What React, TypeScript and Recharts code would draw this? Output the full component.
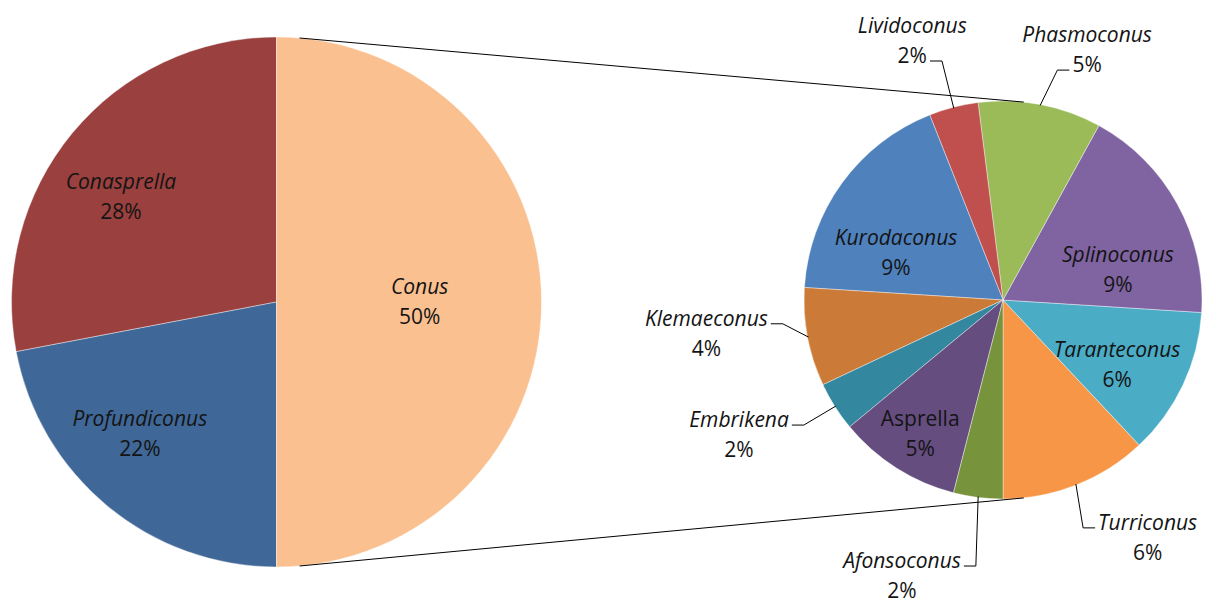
import { PieChart, Pie, Cell } from 'recharts'

// Main pie: genera share of species
const GENERA = ['Conasprella', 'Profundiconus', 'Conus']
const GENERA_PCT = [28, 22, 50]
const GENERA_COLORS = ['#9A403E', '#3F6797', '#FAC090']

// Secondary pie: Conus split into subgenera (sums to the 50% above)
const SUBGENERA = [
  'Turriconus',
  'Taranteconus',
  'Splinoconus',
  'Phasmoconus',
  'Lividoconus',
  'Kurodaconus',
  'Klemaeconus',
  'Embrikena',
  'Asprella',
  'Afonsoconus',
]
const SUBGENERA_PCT = [6, 6, 9, 5, 2, 9, 4, 2, 5, 2]
const SUBGENERA_COLORS = [
  '#F79646',
  '#4BACC6',
  '#8064A2',
  '#9BBB59',
  '#C0504D',
  '#4F81BD',
  '#CC7A38',
  '#33879E',
  '#654D80',
  '#77933C',
]

const W = 1207
const H = 601
const MAIN = { cx: 276.5, cy: 302, r: 265 }
const SPLIT = { cx: 1003, cy: 300, r: 199 }

const FONT_SIZE = 21
const LINE_GAP = 30
const FONT_FAMILY = '"Open Sans", sans-serif'
const TEXT_COLOR = '#141414'
const UPRIGHT = ['Asprella']

type Leader = { line: 0 | 1; side: 'left' | 'right' }
type Layout = { k: number; da: number; leader?: Leader }

// k: radius factor for the label block, da: angle shift from the slice middle
const LABEL_LAYOUT: Record<string, Layout> = {
  Conasprella: { k: 0.708, da: 5.6 },
  Profundiconus: { k: 0.717, da: -6.4 },
  Conus: { k: 0.54, da: 0 },
  Kurodaconus: { k: 0.587, da: 12.3 },
  Splinoconus: { k: 0.597, da: -14.2 },
  Taranteconus: { k: 0.66, da: -4.5 },
  Asprella: { k: 0.79, da: 0.6 },
  Lividoconus: { k: 1.379, da: 4.9, leader: { line: 1, side: 'right' } },
  Phasmoconus: { k: 1.325, da: -7.8, leader: { line: 1, side: 'left' } },
  Klemaeconus: { k: 1.5, da: -4.3, leader: { line: 0, side: 'right' } },
  Embrikena: { k: 1.49, da: -5.3, leader: { line: 0, side: 'right' } },
  Afonsoconus: { k: 1.477, da: -12.9, leader: { line: 0, side: 'right' } },
  Turriconus: { k: 1.399, da: 9.7, leader: { line: 0, side: 'left' } },
}

const RAD = Math.PI / 180
const polar = (cx: number, cy: number, r: number, deg: number) => ({
  x: cx + r * Math.cos(-deg * RAD),
  y: cy + r * Math.sin(-deg * RAD),
})

let measureCtx: CanvasRenderingContext2D | null = null
function textWidth(s: string, italic: boolean): number {
  if (!measureCtx) measureCtx = document.createElement('canvas').getContext('2d')
  if (!measureCtx) return s.length * FONT_SIZE * 0.55
  measureCtx.font = `${italic ? 'italic ' : ''}${FONT_SIZE}px "Open Sans"`
  return measureCtx.measureText(s).width
}

function renderLabel(props: any) {
  const { cx, cy, midAngle, outerRadius, name, value } = props
  const layout = LABEL_LAYOUT[name]
  if (!layout) return null
  const p = polar(cx, cy, outerRadius * layout.k, midAngle + layout.da)
  // genus names are italic, the percentage line is upright
  const lines = [name, `${value}%`]
  const italic = [!UPRIGHT.includes(name), false]
  const base = [p.y - 8, p.y - 8 + LINE_GAP]

  let leader = null
  if (layout.leader) {
    const { line, side } = layout.leader
    const half = textWidth(lines[line], italic[line]) / 2
    const dir = side === 'right' ? 1 : -1
    const x0 = p.x + dir * (half + 3)
    const x1 = p.x + dir * (half + 15)
    const y = base[line] - 2
    const edge = polar(cx, cy, outerRadius - 1, midAngle)
    leader = (
      <polyline
        points={`${x0},${y} ${x1},${y} ${edge.x},${edge.y}`}
        fill="none"
        stroke="#000"
        strokeWidth={1}
      />
    )
  }

  return (
    <g>
      {leader}
      {lines.map((t, i) => (
        <text
          key={i}
          x={p.x}
          y={base[i]}
          textAnchor="middle"
          fontFamily={FONT_FAMILY}
          fontSize={FONT_SIZE}
          fontStyle={italic[i] ? 'italic' : 'normal'}
          fill={TEXT_COLOR}
        >
          {t}
        </text>
      ))}
    </g>
  )
}

const genusData = GENERA.map((name, i) => ({ name, value: GENERA_PCT[i] }))
const subgenusData = SUBGENERA.map((name, i) => ({ name, value: SUBGENERA_PCT[i] }))

export default function App() {
  const topA = polar(MAIN.cx, MAIN.cy, MAIN.r, 85)
  const topB = polar(SPLIT.cx, SPLIT.cy, SPLIT.r, 84)
  const botA = polar(MAIN.cx, MAIN.cy, MAIN.r, -85)
  const botB = polar(SPLIT.cx, SPLIT.cy, SPLIT.r, -84)

  return (
    <div style={{ position: 'absolute', left: 0, top: 0, width: W, height: H, background: '#fff' }}>
      <PieChart width={W} height={H} margin={{ top: 0, right: 0, bottom: 0, left: 0 }}>
        <Pie
          data={genusData}
          dataKey="value"
          nameKey="name"
          cx={MAIN.cx}
          cy={MAIN.cy}
          outerRadius={MAIN.r}
          startAngle={90}
          endAngle={450}
          stroke="#fff"
          strokeWidth={0.4}
          label={renderLabel}
          labelLine={false}
          isAnimationActive={false}
        >
          {genusData.map((d, i) => (
            <Cell key={d.name} fill={GENERA_COLORS[i]} />
          ))}
        </Pie>
        <Pie
          data={subgenusData}
          dataKey="value"
          nameKey="name"
          cx={SPLIT.cx}
          cy={SPLIT.cy}
          outerRadius={SPLIT.r}
          startAngle={-90}
          endAngle={270}
          stroke="#fff"
          strokeWidth={0.4}
          label={renderLabel}
          labelLine={false}
          isAnimationActive={false}
        >
          {subgenusData.map((d, i) => (
            <Cell key={d.name} fill={SUBGENERA_COLORS[i]} />
          ))}
        </Pie>
      </PieChart>
      {/* connector lines between the two pies */}
      <svg
        width={W}
        height={H}
        style={{ position: 'absolute', left: 0, top: 0, pointerEvents: 'none' }}
      >
        <line x1={topA.x} y1={topA.y} x2={topB.x} y2={topB.y} stroke="#000" strokeWidth={1} />
        <line x1={botA.x} y1={botA.y} x2={botB.x} y2={botB.y} stroke="#000" strokeWidth={1} />
      </svg>
    </div>
  )
}
